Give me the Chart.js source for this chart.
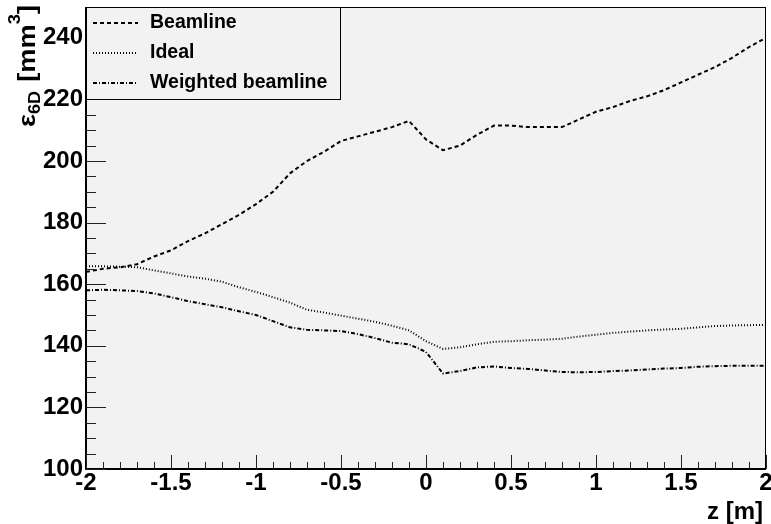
<!DOCTYPE html>
<html>
<head>
<meta charset="utf-8">
<script src="https://cdn.jsdelivr.net/npm/chart.js"></script>
<style>
  body { margin: 0; background: #ffffff; }
  canvas { display: block; }
</style>
</head>
<body>
<canvas id="emitChart" width="771" height="524"></canvas>
<script>
// z positions along the channel [m]
const zValues = [-2.0, -1.9, -1.8, -1.7, -1.6, -1.5, -1.4, -1.3, -1.2, -1.1, -1.0,
  -0.9, -0.8, -0.7, -0.6, -0.5, -0.4, -0.3, -0.2, -0.1, 0.0,
  0.1, 0.2, 0.3, 0.4, 0.5, 0.6, 0.7, 0.8, 0.9, 1.0,
  1.1, 1.2, 1.3, 1.4, 1.5, 1.6, 1.7, 1.8, 1.9, 2.0];

// 6D emittance [mm^3]
const beamline = [164, 165, 165.5, 166.5, 169, 171, 174, 176.5, 179.5, 182.5, 186,
  190, 196, 200, 203, 206.5, 208, 209.5, 211, 213, 207,
  203.5, 205, 208.5, 211.5, 211.5, 211, 211, 211, 213.5, 216,
  217.5, 219.5, 221, 223, 225.5, 228, 230.5, 233.5, 237, 240];

const ideal = [165.8, 165.8, 165.7, 165.5, 164.5, 163.5, 162.5, 161.8, 160.8, 159, 157.5,
  155.8, 154, 151.7, 150.8, 149.8, 148.8, 147.8, 146.5, 145, 141.5,
  139, 139.5, 140.5, 141.3, 141.5, 141.8, 142, 142.3, 143, 143.6,
  144.2, 144.6, 145, 145.3, 145.5, 146, 146.4, 146.6, 146.7, 146.8];

const weightedBeamline = [158, 158.2, 158, 157.8, 157, 155.8, 154.5, 153.5, 152.5, 151.2, 150,
  148, 146, 145.2, 145, 144.8, 143.8, 142.5, 141, 140.5, 138,
  131, 131.8, 133, 133.3, 132.8, 132.5, 132, 131.5, 131.4, 131.5,
  131.8, 132, 132.3, 132.6, 132.8, 133.2, 133.4, 133.5, 133.5, 133.5];

const seriesNames = ["Beamline", "Ideal", "Weighted beamline"];
const xTickValues = [-2, -1.5, -1, -0.5, 0, 0.5, 1, 1.5, 2];
const yTickValues = [100, 120, 140, 160, 180, 200, 220, 240];

const FONT = "'Liberation Sans', Arial, Helvetica, sans-serif";

function pts(arr) {
  return zValues.map((z, i) => ({ x: z, y: arr[i] }));
}

// ROOT-like frame, inward ticks, legend box and axis titles
const rootStyle = {
  id: 'rootStyle',
  beforeDraw(chart) {
    const a = chart.chartArea;
    const ctx = chart.ctx;
    ctx.save();
    ctx.fillStyle = '#f2f2f2';
    ctx.fillRect(a.left, a.top, a.right - a.left, a.bottom - a.top);
    ctx.restore();
  },
  afterDraw(chart) {
    const a = chart.chartArea;
    const ctx = chart.ctx;
    const xs = chart.scales.x, ys = chart.scales.y;
    ctx.save();

    // frame
    ctx.strokeStyle = '#000';
    ctx.lineWidth = 1;
    ctx.strokeRect(a.left + 0.5, a.top + 0.5, a.right - a.left - 1, a.bottom - a.top - 1);
    ctx.lineWidth = 2;
    ctx.beginPath();
    ctx.moveTo(a.left, a.top);
    ctx.lineTo(a.left, a.bottom);
    ctx.lineTo(a.right, a.bottom);
    ctx.stroke();

    // ticks
    ctx.lineWidth = 1;
    ctx.strokeStyle = '#222';
    ctx.beginPath();
    for (let k = 0; k <= 40; k++) {
      const v = -2 + k * 0.1;
      const px = Math.round(xs.getPixelForValue(v)) + 0.5;
      const len = (k % 5 === 0) ? 14 : 7;
      ctx.moveTo(px, a.bottom);
      ctx.lineTo(px, a.bottom - len);
    }
    for (let k = 0; k <= 30; k++) {
      const v = 100 + k * 5;
      const py = Math.round(ys.getPixelForValue(v)) + 0.5;
      const len = (k % 4 === 0) ? 20 : 10;
      ctx.moveTo(a.left, py);
      ctx.lineTo(a.left + len, py);
    }
    ctx.stroke();

    // legend
    const lx = a.left, ly = a.top, lw = 254, lh = 92;
    ctx.fillStyle = '#f2f2f2';
    ctx.fillRect(lx, ly, lw, lh);
    ctx.strokeStyle = '#000';
    ctx.lineWidth = 1;
    ctx.strokeRect(lx + 0.5, ly + 0.5, lw, lh);
    ctx.font = 'bold 19.5px ' + FONT;
    ctx.textBaseline = 'middle';
    ctx.textAlign = 'left';
    chart.data.datasets.forEach((ds, i) => {
      const cy = ly + 16 + i * 30;
      ctx.strokeStyle = '#000';
      ctx.lineWidth = 2;
      ctx.setLineDash(ds.borderDash);
      ctx.beginPath();
      ctx.moveTo(lx + 7, cy);
      ctx.lineTo(lx + 52, cy);
      ctx.stroke();
      ctx.setLineDash([]);
      ctx.fillStyle = '#000';
      ctx.fillText(ds.label, lx + 64, cy);
    });

    // x title
    ctx.font = 'bold 24px ' + FONT;
    ctx.textAlign = 'right';
    ctx.textBaseline = 'alphabetic';
    ctx.fillText('z [m]', 763, 519);

    // y title: epsilon_6D [mm^3], squeezed to span y = 5..127
    const parts = [
      { t: '\u03b5', size: 24, dy: 0, gap: 0 },
      { t: '6D', size: 16, dy: 5, gap: 8 },
      { t: '[', size: 24, dy: 0, gap: 0 },
      { t: 'mm', size: 24, dy: 0, gap: 0 },
      { t: '3', size: 16, dy: -15, gap: 0 },
      { t: ']', size: 24, dy: 0, gap: 0 }
    ];
    let total = 0;
    parts.forEach(p => {
      ctx.font = 'bold ' + p.size + 'px ' + FONT;
      p.w = ctx.measureText(p.t).width;
      total += p.w + p.gap;
    });
    const sx = 122 / total;
    ctx.translate(35, 5);
    ctx.rotate(-Math.PI / 2);
    ctx.textAlign = 'left';
    let x = -122;
    parts.forEach(p => {
      ctx.font = 'bold ' + p.size + 'px ' + FONT;
      ctx.save();
      ctx.translate(x, p.dy);
      ctx.scale(sx, 1);
      ctx.fillText(p.t, 0, 0);
      ctx.restore();
      x += (p.w + p.gap) * sx;
    });

    ctx.restore();
  }
};

const emitChart = new Chart("emitChart", {
  type: "line",
  data: {
    datasets: [{
      label: seriesNames[0],
      data: pts(beamline),
      borderColor: '#000',
      borderWidth: 2,
      borderDash: [4, 3],
      pointRadius: 0,
      tension: 0
    }, {
      label: seriesNames[1],
      data: pts(ideal),
      borderColor: '#000',
      borderWidth: 2,
      borderDash: [1, 2],
      pointRadius: 0,
      tension: 0
    }, {
      label: seriesNames[2],
      data: pts(weightedBeamline),
      borderColor: '#000',
      borderWidth: 2,
      borderDash: [4, 2, 1, 2],
      pointRadius: 0,
      tension: 0
    }]
  },
  options: {
    responsive: false,
    animation: false,
    devicePixelRatio: 1,
    layout: { padding: { top: 7, right: 5, left: 0, bottom: 0 } },
    plugins: {
      legend: { display: false },
      tooltip: { enabled: false }
    },
    scales: {
      x: {
        type: 'linear',
        min: -2,
        max: 2,
        grid: { display: false, drawTicks: false },
        border: { display: false },
        afterBuildTicks: (s) => { s.ticks = xTickValues.map(v => ({ value: v })); },
        afterFit: (s) => { s.height = 55; s.paddingLeft = 0; s.paddingRight = 0; },
        ticks: {
          color: '#000',
          font: { family: FONT, size: 24, weight: 'bold' },
          padding: 0,
          maxRotation: 0,
          autoSkip: false,
          callback: (v) => String(v)
        }
      },
      y: {
        min: 100,
        max: 250,
        grid: { display: false, drawTicks: false },
        border: { display: false },
        afterBuildTicks: (s) => { s.ticks = yTickValues.map(v => ({ value: v })); },
        afterFit: (s) => { s.width = 86; s.paddingTop = 0; s.paddingBottom = 0; },
        ticks: {
          color: '#000',
          font: { family: FONT, size: 24, weight: 'bold' },
          padding: 3,
          autoSkip: false,
          callback: (v) => String(v)
        }
      }
    }
  },
  plugins: [rootStyle]
});
</script>
</body>
</html>
